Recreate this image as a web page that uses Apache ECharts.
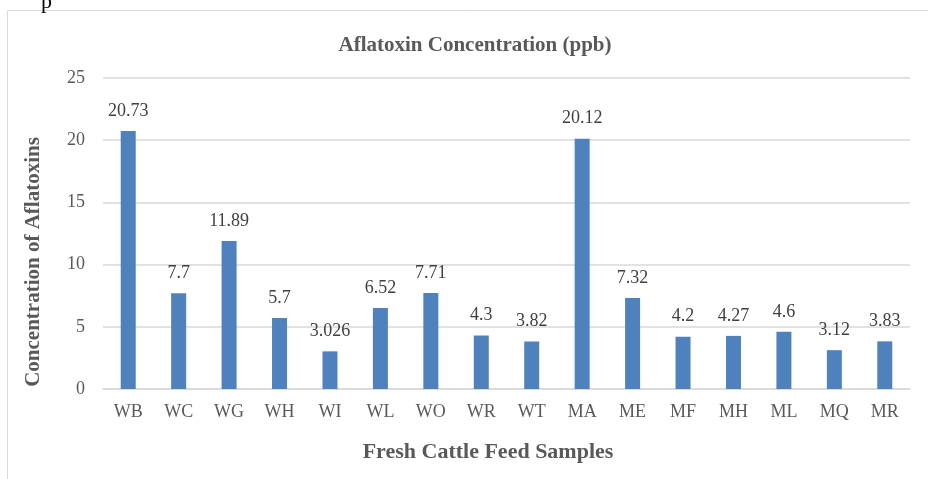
<!DOCTYPE html>
<html>
<head>
<meta charset="utf-8">
<script src="https://cdn.jsdelivr.net/npm/echarts@6/dist/echarts.min.js"></script>
<style>
  html, body { margin: 0; padding: 0; background: #fff; }
  #chart { width: 928px; height: 479px; }
</style>
</head>
<body>
<div id="chart"></div>
<script>
var samples = ["WB", "WC", "WG", "WH", "WI", "WL", "WO", "WR", "WT", "MA", "ME", "MF", "MH", "ML", "MQ", "MR"];
var aflatoxin = [20.73, 7.7, 11.89, 5.7, 3.026, 6.52, 7.71, 4.3, 3.82, 20.12, 7.32, 4.2, 4.27, 4.6, 3.12, 3.83];
var yTicks = [0, 5, 10, 15, 20, 25];

var serif = "'Liberation Serif', 'Times New Roman', serif";
var textGray = "#595959";

var chart = echarts.init(document.getElementById("chart"));

var option = {
  animation: false,
  textStyle: { fontFamily: serif },
  title: {
    text: "Aflatoxin Concentration (ppb)",
    left: 470,
    top: 30,
    textAlign: "center",
    textStyle: { fontFamily: serif, fontSize: 21, fontWeight: "bold", color: textGray },
  },
  grid: { left: 103, right: 18, top: 78, bottom: 90, containLabel: false },
  graphic: [
    {
      type: "rect",
      shape: { x: 7.5, y: 10.5, width: 940, height: 480 },
      style: { fill: "none", stroke: "#d9d9d9", lineWidth: 1 },
      silent: true,
    },
    {
      type: "text",
      x: 41,
      y: -9,
      style: { text: "p", font: "22px " + serif, fill: "#000" },
      silent: true,
    },
    {
      type: "text",
      x: 34,
      y: 262,
      rotation: Math.PI / 2,
      style: {
        text: "Concentration of Aflatoxins",
        font: "bold 21px " + serif,
        fill: textGray,
        align: "center",
        verticalAlign: "middle",
      },
      silent: true,
    },
    {
      type: "text",
      x: 488,
      y: 452,
      style: {
        text: "Fresh Cattle Feed Samples",
        font: "bold 22px " + serif,
        fill: textGray,
        align: "center",
        verticalAlign: "middle",
      },
      silent: true,
    },
  ],
  xAxis: {
    type: "category",
    data: samples,
    axisLine: { show: true, lineStyle: { color: "#d9d9d9", width: 1.5 } },
    axisTick: { show: false },
    axisLabel: { color: textGray, fontSize: 18, fontFamily: serif, margin: 14 },
  },
  yAxis: {
    type: "value",
    min: yTicks[0],
    max: yTicks[yTicks.length - 1],
    interval: 5,
    axisLine: { show: false },
    axisTick: { show: false },
    axisLabel: { color: textGray, fontSize: 18, fontFamily: serif, margin: 18 },
    splitLine: { lineStyle: { color: "#d9d9d9", width: 1.5 } },
  },
  series: [
    {
      type: "bar",
      data: aflatoxin,
      barWidth: 15,
      itemStyle: { color: "#4f81bd" },
      label: {
        show: true,
        position: "top",
        distance: 11,
        color: "#404040",
        fontSize: 18,
        fontFamily: serif,
      },
    },
  ],
};

chart.setOption(option);
</script>
</body>
</html>
